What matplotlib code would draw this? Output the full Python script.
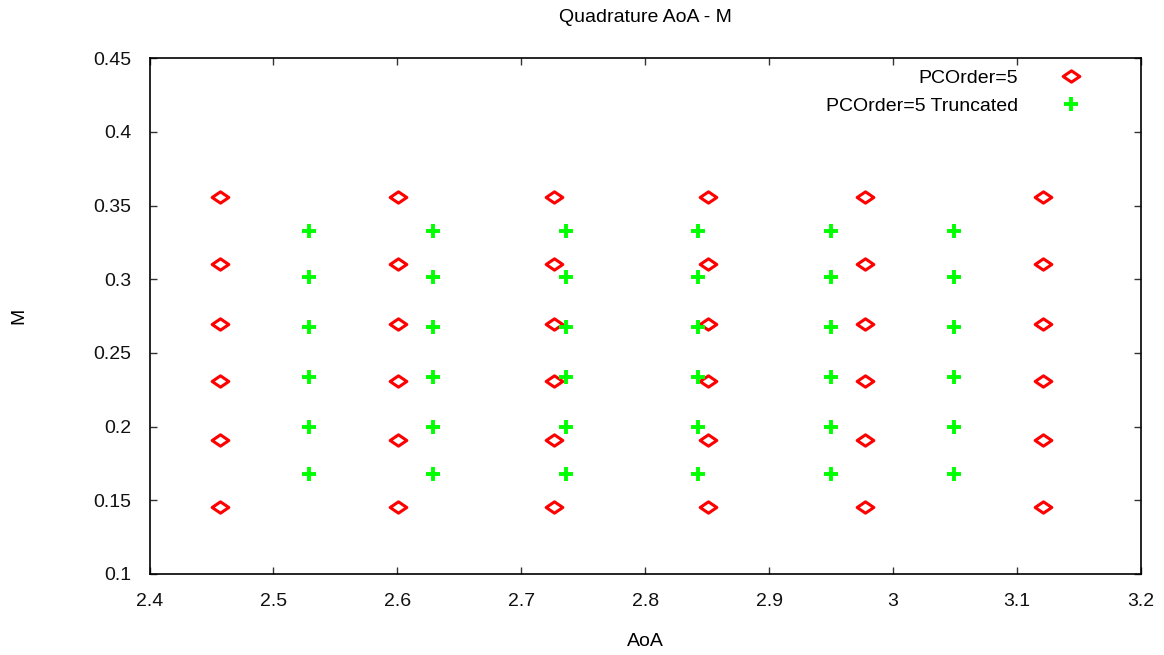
import numpy as np
import matplotlib
matplotlib.use("Agg")
import matplotlib.pyplot as plt
from matplotlib.path import Path

plt.rcParams['font.family'] = ['Liberation Sans', 'DejaVu Sans']

# quadrature nodes
full_aoa = [2.4569, 2.6002, 2.7262, 2.8506, 2.9776, 3.1206]
full_m = [0.1455, 0.1910, 0.2311, 0.2698, 0.3104, 0.3556]
trunc_aoa = [2.5286, 2.6284, 2.7358, 2.8426, 2.9496, 3.0490]
trunc_m = [0.1680, 0.1999, 0.2339, 0.2678, 0.3014, 0.3328]

labels = ["PCOrder=5", "PCOrder=5 Truncated"]
title = "Quadrature AoA - M"
fs = 14

# flat diamond like gnuplot's pointtype 12
diamond = Path([(-1, 0), (0, 0.68), (1, 0), (0, -0.68), (-1, 0)],
               [Path.MOVETO, Path.LINETO, Path.LINETO, Path.LINETO, Path.CLOSEPOLY])

fig = plt.figure(figsize=(11.64, 6.55), dpi=100)
ax = fig.add_axes([149.5 / 1164, 1 - 574 / 655, (1141 - 149.5) / 1164, (574 - 58.3) / 655])

xa, ya = np.meshgrid(full_aoa, full_m)
xb, yb = np.meshgrid(trunc_aoa, trunc_m)
ax.plot(xa.ravel(), ya.ravel(), ls='none', marker=diamond, ms=12,
        mfc='none', mec='#ff0000', mew=2.2, label=labels[0])
ax.plot(xb.ravel(), yb.ravel(), ls='none', marker='+', ms=10.5,
        mec='#00ff00', mew=2.8, label=labels[1])

ax.set_xlim(2.4, 3.2)
ax.set_ylim(0.1, 0.45)
ax.set_xticks(np.arange(2.4, 3.21, 0.1))
ax.set_xticklabels(["2.4", "2.5", "2.6", "2.7", "2.8", "2.9", "3", "3.1", "3.2"])
ax.set_yticks(np.arange(0.1, 0.451, 0.05))
ax.set_yticklabels(["0.1", "0.15", "0.2", "0.25", "0.3", "0.35", "0.4", "0.45"])
ax.tick_params(direction='in', length=5, width=1, top=True, right=True,
               labelsize=fs, color='#333333', labelcolor='#111111')
ax.tick_params(axis='x', pad=14)
ax.tick_params(axis='y', pad=13)
for s in ax.spines.values():
    s.set_linewidth(1.2)

fig.text(645 / 1164, 1 - 18 / 655, title, ha='center', va='center', fontsize=fs)
fig.text(645 / 1164, 1 - 642 / 655, "AoA", ha='center', va='center', fontsize=fs)
fig.text(19 / 1164, 1 - 316 / 655, "M", ha='center', va='center', fontsize=fs, rotation=90)

ax.legend(loc='upper right', markerfirst=False, frameon=False, fontsize=fs,
          handlelength=2.0, handletextpad=1.75, labelspacing=0.55,
          bbox_to_anchor=(0.960, 1.0), borderaxespad=0.15)

fig.savefig("out.png", dpi=100)
